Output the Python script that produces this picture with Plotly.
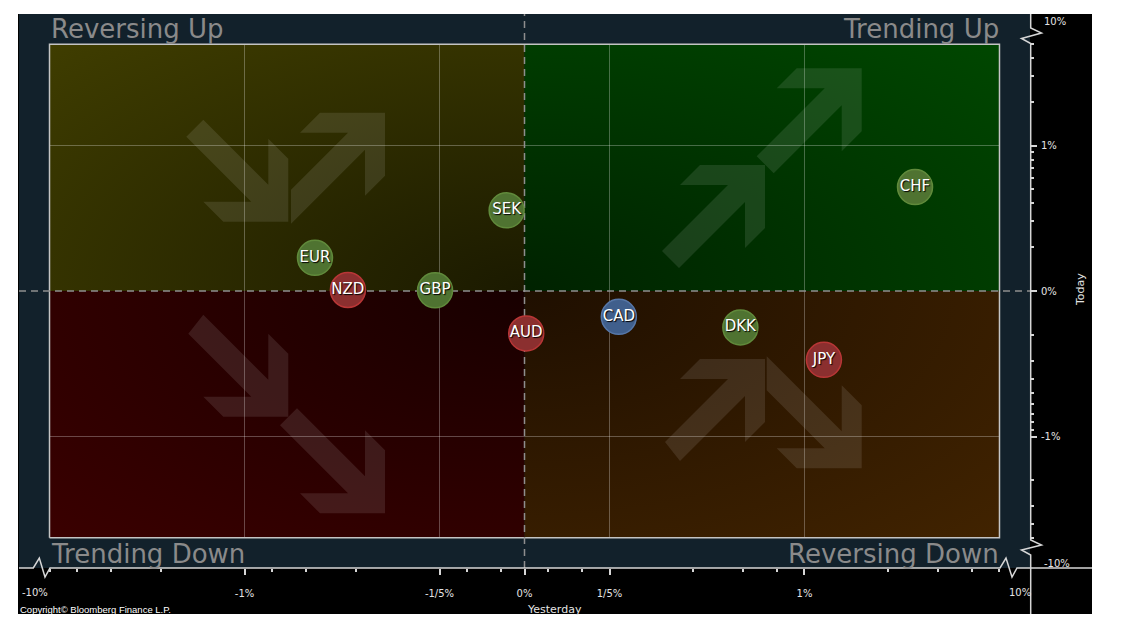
import numpy as np
import plotly.graph_objects as go

# ------------------------------------------------------------------
# Data (percent changes)
# ------------------------------------------------------------------
currencies = ["CHF", "SEK", "EUR", "NZD", "GBP", "AUD", "CAD", "DKK", "JPY"]
yesterday_pct = [2.49, -0.042, -0.559, -0.426, -0.2075, 0.004, 0.216, 0.589, 1.174]
today_pct = [0.517, 0.357, 0.150, 0.0045, 0.003, -0.192, -0.117, -0.165, -0.296]
signal = ["green", "green", "green", "red", "green", "red", "blue", "green", "red"]

quadrant_labels = ["Reversing Up", "Trending Up", "Trending Down", "Reversing Down"]

x_tick_vals = [-1, -0.2, 0, 0.2, 1]
x_tick_text = ["-1%", "-1/5%", "0%", "1/5%", "1%"]
x_minor_vals = [-5, -4, -3, -2, -0.8, -0.6, -0.4, -0.135, -0.055,
                0.055, 0.135, 0.4, 0.6, 0.8, 2, 3, 4, 5]
y_tick_vals = [-1, 0, 1]
y_tick_text = ["-1%", "0%", "1%"]
y_minor_vals = [-5, -4, -3, -2, -0.9, -0.8, -0.7, -0.6, -0.5, -0.4, -0.3, -0.2,
                0.2, 0.3, 0.4, 0.5, 0.6, 0.7, 0.8, 0.9, 2, 3, 4, 5]
x_grid_vals = [-1, -0.2, 0.2, 1]
y_grid_vals = [-1, 1]
axis_limit_pct = 5
break_text = ["-10%", "10%"]

# ------------------------------------------------------------------
# Scale: linear near zero, logarithmic beyond 0.2 %
# ------------------------------------------------------------------
def G(v):
    v = np.asarray(v, dtype=float)
    a = np.abs(v)
    lin = a * (0.30357 / 0.2)
    lg = 0.30357 + 0.99634 * np.log10(np.maximum(a, 1e-9) / 0.2)
    return np.sign(v) * np.where(a < 0.2, lin, lg)

DEC_X, DEC_Y = 280.0, 145.5
def tx(v):
    return DEC_X * G(v)
def ty(v):
    return DEC_Y * G(v)

# ------------------------------------------------------------------
# Geometry / style
# ------------------------------------------------------------------
W, H = 1123, 642
PL, PR, PT, PB = 19, 1030, 14, 568
X0, Y0 = 524.5, 291.0
XR = [PL - X0, PR - X0]
YR = [Y0 - PB, Y0 - PT]

def pxx(px):
    return (px - PL) / (PR - PL)
def pxy(py):
    return (PB - py) / (PB - PT)

NAVY = "#12212b"
FONT = "DejaVu Sans"
TICKC = "#e4e4e4"

X5 = float(tx(axis_limit_pct))
Y5 = float(ty(axis_limit_pct))

fig = go.Figure()

# quadrant backgrounds (radial gradient centred on the origin)
K = 1.5
quads = [(-1, 1, "#1b1a00", "#3f3d00"),
         (1, 1, "#002200", "#004700"),
         (-1, -1, "#180000", "#3a0000"),
         (1, -1, "#1f0f00", "#412300")]
for sx, sy, cc, ck in quads:
    xs = [0, sx * X5, sx * X5, 0, 0, -sx * K * X5, 0, sx * K * X5, 0]
    ys = [0, 0, sy * Y5, sy * Y5, 0, -sy * K * Y5, 0, sy * K * Y5, 0]
    fig.add_trace(go.Scatter(
        x=xs, y=ys, mode="lines", fill="toself",
        line=dict(width=0, simplify=False),
        fillgradient=dict(type="radial",
                          colorscale=[[0, cc], [0.94, ck], [1, ck]]),
        hoverinfo="skip", showlegend=False))

# decorative arrows (axis pixel units): tip x, tip y, pointing down?, s1, s2
arrows = [(-236.2, 69.3, True, 65, 65),
          (-139.5, 178.3, False, 57, 74),
          (337.2, 222.7, False, 68, 68),
          (240.5, 126.0, False, 66, 66),
          (-236.2, -125.7, True, 63, 65),
          (-139.5, -222.3, True, 68, 68),
          (240.5, -68.0, False, 63, 65),
          (337.2, -177.3, True, 58, 75)]
for txp, typ, down, s1, s2 in arrows:
    tmpl = [(0, 0), (0, 63), (-20, 83), (-20, 37), (-20 - s2, 37 + s2),
            (-37 - s1, 20 + s1), (-37, 20), (-85, 20), (-65, 0), (0, 0)]
    sgn = 1 if down else -1
    fig.add_trace(go.Scatter(
        x=[txp + p[0] for p in tmpl], y=[typ + sgn * p[1] for p in tmpl],
        mode="lines", fill="toself", fillcolor="rgba(255,255,255,0.10)",
        line=dict(width=0), hoverinfo="skip", showlegend=False))

# grid lines
gx, gy = [], []
for v in x_grid_vals:
    gx += [float(tx(v)), float(tx(v)), None]
    gy += [-Y5, Y5, None]
for v in y_grid_vals:
    gx += [-X5, X5, None]
    gy += [float(ty(v)), float(ty(v)), None]
fig.add_trace(go.Scatter(x=gx, y=gy, mode="lines",
                         line=dict(color="rgba(255,255,255,0.28)", width=1),
                         hoverinfo="skip", showlegend=False))

# plot border
fig.add_trace(go.Scatter(x=[-X5, X5, X5, -X5, -X5], y=[-Y5, -Y5, Y5, Y5, -Y5],
                         mode="lines", line=dict(color="#c4c4c4", width=1.5),
                         hoverinfo="skip", showlegend=False))

# dashed zero lines
fig.add_trace(go.Scatter(x=[0, 0, None, XR[0], XR[1]], y=[YR[0], YR[1], None, 0, 0],
                         mode="lines",
                         line=dict(color="#8e8e8e", width=1.5, dash="7px,5px"),
                         hoverinfo="skip", showlegend=False))

# bubbles
fill_map = {"green": "#4f7331", "red": "#8b2f2f", "blue": "#405f8c"}
edge_map = {"green": "#608a3b", "red": "#b83636", "blue": "#5677a8"}
fig.add_trace(go.Scatter(
    x=tx(yesterday_pct), y=ty(today_pct), mode="markers+text",
    text=currencies, textposition="middle center",
    textfont=dict(family=FONT, size=15, color="white", shadow="1px 1px 1px #000"),
    marker=dict(size=35, color=[fill_map[s] for s in signal],
                line=dict(color=[edge_map[s] for s in signal], width=1.5)),
    hoverinfo="skip", showlegend=False))

# ------------------------------------------------------------------
# shapes (background panels, axis lines with break marks)
# ------------------------------------------------------------------
def path(points):
    return "M " + " L ".join(f"{pxx(a):.5f},{pxy(b):.5f}" for a, b in points)

shapes = [
    dict(type="rect", xref="paper", yref="paper", x0=pxx(18), x1=pxx(1092),
         y0=pxy(614), y1=pxy(14), fillcolor="black", line=dict(width=0), layer="below"),
    dict(type="rect", xref="paper", yref="paper", x0=0, x1=1, y0=0, y1=1,
         fillcolor=NAVY, line=dict(width=0), layer="below"),
]
axis_line = dict(color="#d6d6d6", width=1.5)
xaxis_pts = [(19, 568), (33.3, 568), (39.3, 558), (45, 577), (50, 568), (1000, 568),
             (1006, 558), (1012, 577), (1017, 568), (1092, 568)]
yaxis_pts = [(1030.7, 14), (1030.7, 28), (1041.5, 33), (1021.5, 38.5), (1030.7, 43.5),
             (1030.7, 540), (1041.5, 545), (1021.5, 550), (1030.7, 555), (1030.7, 614)]
for pts in (xaxis_pts, yaxis_pts):
    shapes.append(dict(type="path", xref="paper", yref="paper", path=path(pts),
                       line=axis_line, layer="above"))

# ------------------------------------------------------------------
# annotations
# ------------------------------------------------------------------
ann = []
corner = dict(family=FONT, size=26, color="#8a8a8a")
ann.append(dict(x=pxx(49), y=pxy(29), text=quadrant_labels[0], xanchor="left", yanchor="middle", font=corner))
ann.append(dict(x=pxx(1001), y=pxy(29), text=quadrant_labels[1], xanchor="right", yanchor="middle", font=corner))
ann.append(dict(x=pxx(49), y=pxy(554), text=quadrant_labels[2], xanchor="left", yanchor="middle", font=corner))
ann.append(dict(x=pxx(1001), y=pxy(554), text=quadrant_labels[3], xanchor="right", yanchor="middle", font=corner))

tickf = dict(family=FONT, size=10, color=TICKC)
ann.append(dict(x=pxx(35), y=pxy(592), text=break_text[0], xanchor="center", yanchor="middle", font=tickf))
ann.append(dict(x=pxx(1020), y=pxy(592), text=break_text[1], xanchor="center", yanchor="middle", font=tickf))
ann.append(dict(x=pxx(1042), y=pxy(22), text=break_text[1], xanchor="left", yanchor="middle", font=tickf))
ann.append(dict(x=pxx(1042), y=pxy(563), text=break_text[0], xanchor="left", yanchor="middle", font=tickf))
ann.append(dict(x=pxx(554), y=pxy(609), text="Yesterday", xanchor="center", yanchor="middle",
                font=dict(family=FONT, size=11, color=TICKC)))
ann.append(dict(x=pxx(1080), y=pxy(290), text="Today", textangle=-90, xanchor="center", yanchor="middle",
                font=dict(family=FONT, size=11, color=TICKC)))
ann.append(dict(x=pxx(18), y=pxy(609), text="Copyright\u00a9 Bloomberg Finance L.P.", xanchor="left",
                yanchor="middle", font=dict(family="Liberation Sans", size=9.5, color="white")))
for a in ann:
    a.update(xref="paper", yref="paper", showarrow=False)

fig.update_layout(
    width=W, height=H,
    margin=dict(l=PL, r=W - PR, t=PT, b=H - PB, autoexpand=False),
    paper_bgcolor="white", plot_bgcolor="rgba(0,0,0,0)",
    showlegend=False, hovermode=False,
    shapes=shapes, annotations=ann,
    xaxis=dict(range=XR, showgrid=False, zeroline=False, showline=False,
               tickmode="array", tickvals=tx(x_tick_vals), ticktext=x_tick_text,
               ticks="outside", ticklen=6, tickwidth=1.5, tickcolor="#d6d6d6",
               tickfont=tickf, ticklabelstandoff=10,
               minor=dict(tickmode="array", tickvals=tx(x_minor_vals), ticks="outside",
                          ticklen=3, tickwidth=1.5, tickcolor="#d6d6d6", showgrid=False),
               fixedrange=True),
    yaxis=dict(range=YR, side="right", showgrid=False, zeroline=False, showline=False,
               tickmode="array", tickvals=ty(y_tick_vals), ticktext=y_tick_text,
               ticks="outside", ticklen=6, tickwidth=1.5, tickcolor="#d6d6d6",
               tickfont=tickf, ticklabelstandoff=2,
               minor=dict(tickmode="array", tickvals=ty(y_minor_vals), ticks="outside",
                          ticklen=3, tickwidth=1.5, tickcolor="#d6d6d6", showgrid=False),
               fixedrange=True),
)

fig.write_html("out.html")
